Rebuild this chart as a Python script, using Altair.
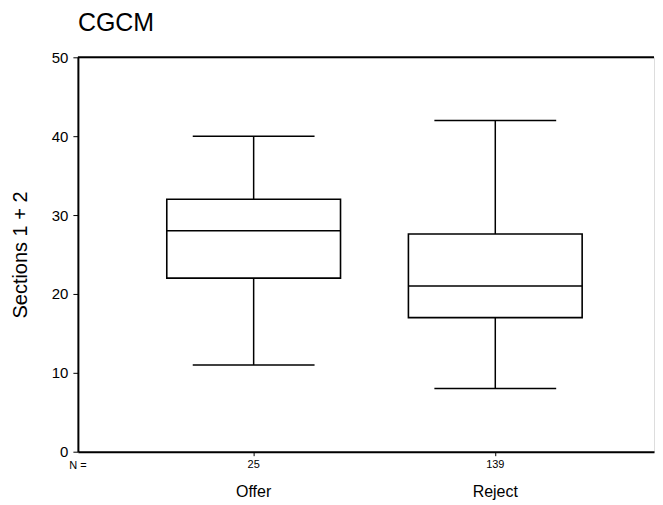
import altair as alt
import pandas as pd

groups = ["Offer", "Reject"]
n_values = [25, 139]
lower_whisker = [11, 8]
q1 = [22, 17]
median = [28, 21]
q3 = [32, 27.6]
upper_whisker = [40, 42]

df = pd.DataFrame({
    "group": groups,
    "n": n_values,
    "lower": lower_whisker,
    "q1": q1,
    "median": median,
    "q3": q3,
    "upper": upper_whisker,
})

FONT = "Liberation Sans"
W, H = 577, 395

label_expr = ""
for g, n in zip(groups, n_values):
    label_expr += f"datum.value == '{g}' ? '{n}' : "
label_expr += "''"

x_enc = alt.X(
    "group:N",
    sort=groups,
    scale=alt.Scale(paddingInner=0.281, paddingOuter=0.3326, align=0.553),
    axis=alt.Axis(
        title=None, labelExpr=label_expr, labelAngle=0, labelFontSize=11,
        labelFont=FONT, labelColor="black", labelPadding=3,
        domainColor="black", domainWidth=2, tickColor="black", tickSize=4,
        tickWidth=1, grid=False,
    ),
)
y_scale = alt.Scale(domain=[0, 50], nice=False)
y_axis = alt.Axis(
    title="Sections 1 + 2", values=[0, 10, 20, 30, 40, 50], labelFontSize=15,
    labelFont=FONT, labelColor="black", labelPadding=5, tickSize=5,
    tickColor="black", tickWidth=1, domainColor="black", domainWidth=2,
    grid=False, titleFont=FONT, titleFontSize=20, titleFontWeight="normal",
    titleColor="black", titlePadding=21,
)

base = alt.Chart(df)

lower_rule = base.mark_rule(color="black", strokeWidth=1.5).encode(
    x=x_enc, y=alt.Y("lower:Q", scale=y_scale, axis=y_axis), y2="q1:Q")
upper_rule = base.mark_rule(color="black", strokeWidth=1.5).encode(
    x=x_enc, y=alt.Y("q3:Q", scale=y_scale), y2="upper:Q")
box = base.mark_bar(fill="white", stroke="black", strokeWidth=1.6).encode(
    x=x_enc, y=alt.Y("q1:Q", scale=y_scale), y2="q3:Q")
med = base.mark_tick(color="black", size=174, thickness=1.5, opacity=1).encode(
    x=x_enc, y=alt.Y("median:Q", scale=y_scale))
cap_lo = base.mark_tick(color="black", size=122, thickness=1.5, opacity=1).encode(
    x=x_enc, y=alt.Y("lower:Q", scale=y_scale))
cap_hi = base.mark_tick(color="black", size=122, thickness=1.5, opacity=1).encode(
    x=x_enc, y=alt.Y("upper:Q", scale=y_scale))
top_line = alt.Chart(pd.DataFrame({"v": [50]})).mark_rule(
    color="black", strokeWidth=2).encode(y=alt.Y("v:Q", scale=y_scale))
cat_text = base.mark_text(font=FONT, fontSize=16, color="black",
                          baseline="middle").encode(
    x=x_enc, y=alt.value(H + 40), text="group:N")
n_text = alt.Chart(pd.DataFrame({"t": ["N ="]})).mark_text(
    font=FONT, fontSize=11, color="black", baseline="middle").encode(
    x=alt.value(0), y=alt.value(H + 14), text="t:N")

chart = alt.layer(
    lower_rule, upper_rule, box, med, cap_lo, cap_hi, top_line, cat_text, n_text
).properties(
    width=W, height=H,
    title=alt.TitleParams("CGCM", font=FONT, fontSize=25, fontWeight="normal",
                          color="black", anchor="start", frame="group",
                          offset=14),
    padding={"left": 2, "right": 0, "top": 3, "bottom": 0},
).configure_view(stroke=None).configure(background="white")

chart.save("out.html", embed_options={"renderer": "svg", "actions": False})
